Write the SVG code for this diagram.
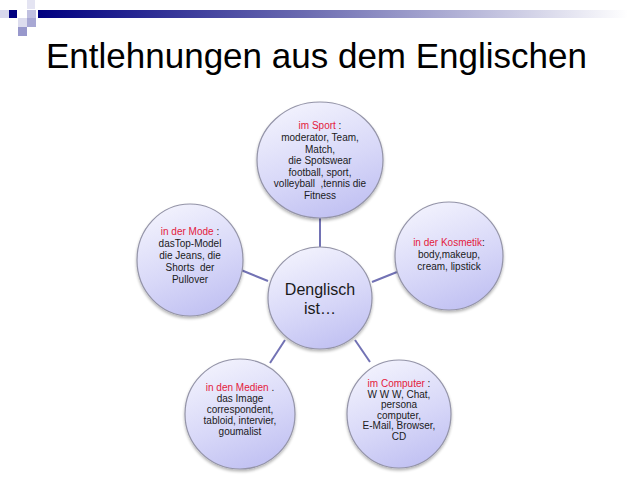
<svg xmlns="http://www.w3.org/2000/svg" width="640" height="480" viewBox="0 0 640 480">
<defs>
<linearGradient id="bar" x1="0" y1="0" x2="1" y2="0">
<stop offset="0" stop-color="#000080"/>
<stop offset="0.45" stop-color="#6a6ab0"/>
<stop offset="1" stop-color="#ffffff"/>
</linearGradient>
<linearGradient id="ball" x1="0.3" y1="0" x2="0.7" y2="1">
<stop offset="0" stop-color="#f2f2fd"/>
<stop offset="0.55" stop-color="#d8d8f8"/>
<stop offset="1" stop-color="#c0c0f2"/>
</linearGradient>
<filter id="sh" x="-20%" y="-20%" width="140%" height="140%">
<feGaussianBlur in="SourceAlpha" stdDeviation="1.5"/>
<feOffset dx="0" dy="1.5" result="b"/>
<feComponentTransfer><feFuncA type="linear" slope="0.3"/></feComponentTransfer>
<feMerge><feMergeNode/><feMergeNode in="SourceGraphic"/></feMerge>
</filter>
</defs>
<style>
.c{fill:url(#ball);stroke:#9494a8;stroke-width:1.2;filter:url(#sh)}
.t{font-family:"Liberation Sans",Arial,sans-serif;font-size:10px;fill:#1a1a1a;text-anchor:middle}
.r{fill:#e4203c}
.big{font-size:16px}
.ln{stroke:#7272b4;stroke-width:2;fill:none}
</style>
<rect width="640" height="480" fill="#ffffff"/>
<g id="logo">
<rect x="38" y="10" width="590" height="8" fill="url(#bar)"/>
<rect x="0" y="10" width="9" height="8" fill="#d8d8ec"/>
<rect x="9" y="10" width="8" height="8" fill="#000080"/>
<rect x="27" y="0" width="8" height="9" fill="#e4e4f2"/>
<rect x="27" y="10" width="9" height="8" fill="#c0c0e0"/>
<rect x="18" y="18" width="9" height="9" fill="#dcdcee"/>
<rect x="27" y="18" width="9" height="9" fill="#a8a8d4"/>
<rect x="18" y="27" width="9" height="9" fill="#9898cc"/>
</g>
<text x="46" y="68" font-family="'Liberation Sans',Arial,sans-serif" font-size="35" fill="#000">Entlehnungen aus dem Englischen</text>
<g id="connectors">
<line class="ln" x1="320" y1="218" x2="320" y2="247"/>
<line class="ln" x1="241" y1="270" x2="268" y2="281"/>
<line class="ln" x1="372" y1="282" x2="397" y2="272"/>
<line class="ln" x1="285" y1="340" x2="270" y2="363"/>
<line class="ln" x1="355" y1="340" x2="370" y2="362"/>
</g>
<g id="sport">
<ellipse class="c" cx="320" cy="160" rx="63" ry="58"/>
<text class="t"><tspan x="320" y="129"><tspan class="r">im Sport</tspan> :</tspan><tspan x="320" y="141">moderator, Team,</tspan><tspan x="320" y="152.5">Match,</tspan><tspan x="320" y="164">die Spotswear</tspan><tspan x="320" y="175.5">football, sport,</tspan><tspan x="320" y="187" xml:space="preserve">volleyball  ,tennis die</tspan><tspan x="320" y="198.5">Fitness</tspan></text>
</g>
<g id="mode">
<ellipse class="c" cx="190" cy="260" rx="53" ry="56"/>
<text class="t"><tspan x="190" y="235"><tspan class="r">in der Mode</tspan> :</tspan><tspan x="190" y="247">dasTop-Model</tspan><tspan x="190" y="259">die Jeans, die</tspan><tspan x="190" y="271" xml:space="preserve">Shorts  der</tspan><tspan x="190" y="283">Pullover</tspan></text>
</g>
<g id="kosmetik">
<ellipse class="c" cx="449" cy="256" rx="54" ry="54"/>
<text class="t"><tspan x="449" y="246"><tspan class="r">in der Kosmetik</tspan>:</tspan><tspan x="449" y="258">body,makeup,</tspan><tspan x="449" y="270">cream, lipstick</tspan></text>
</g>
<g id="center">
<ellipse class="c" cx="320" cy="298" rx="52" ry="51"/>
<text class="t big"><tspan x="320" y="295">Denglisch</tspan><tspan x="320" y="314">ist…</tspan></text>
</g>
<g id="medien">
<ellipse class="c" cx="240" cy="414" rx="55" ry="55"/>
<text class="t"><tspan x="240" y="391"><tspan class="r">in den Medien</tspan> .</tspan><tspan x="240" y="402">das Image</tspan><tspan x="240" y="413">correspondent,</tspan><tspan x="240" y="424">tabloid, intervier,</tspan><tspan x="240" y="435">goumalist</tspan></text>
</g>
<g id="computer">
<ellipse class="c" cx="399" cy="414" rx="52" ry="54"/>
<text class="t"><tspan x="399" y="387"><tspan class="r">im Computer</tspan> :</tspan><tspan x="399" y="397.5">W W W, Chat,</tspan><tspan x="399" y="408">persona</tspan><tspan x="399" y="418.5">computer,</tspan><tspan x="399" y="429">E-Mail, Browser,</tspan><tspan x="399" y="439.5">CD</tspan></text>
</g>
</svg>
